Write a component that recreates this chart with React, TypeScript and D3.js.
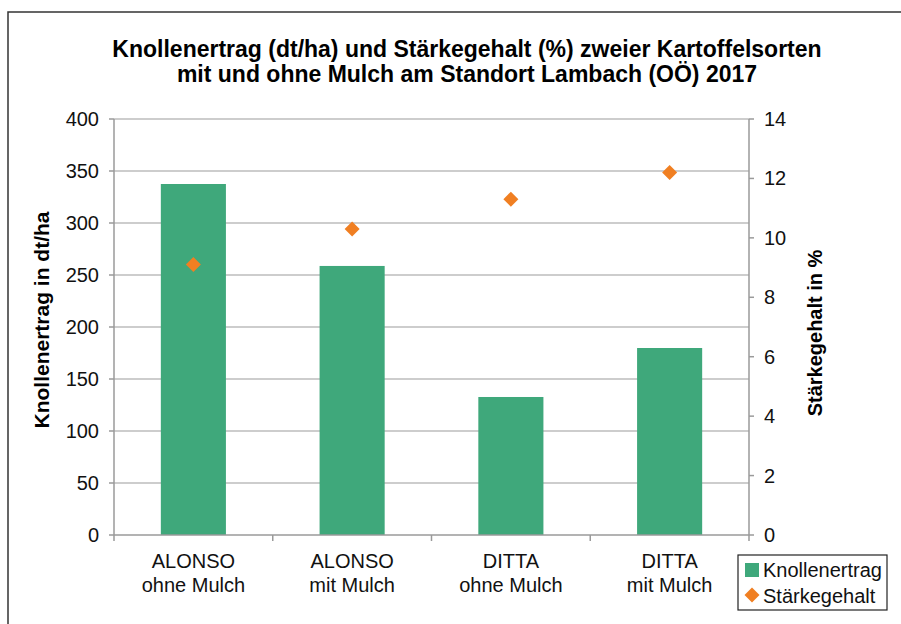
import React from 'react';
import * as d3 from 'd3';

const categories = [
  ['ALONSO', 'ohne Mulch'],
  ['ALONSO', 'mit Mulch'],
  ['DITTA', 'ohne Mulch'],
  ['DITTA', 'mit Mulch'],
];
const knollenertrag = [337.5, 258.7, 132.7, 179.8];
const staerkegehalt = [9.1, 10.3, 11.3, 12.2];
const leftTicks = [0, 50, 100, 150, 200, 250, 300, 350, 400];
const rightTicks = [0, 2, 4, 6, 8, 10, 12, 14];

const titleLines = [
  'Knollenertrag (dt/ha) und Stärkegehalt (%) zweier Kartoffelsorten',
  'mit und ohne Mulch am Standort Lambach (OÖ) 2017',
];

const GREEN = '#3fa87b';
const ORANGE = '#f07f22';
const FONT = "'Liberation Sans', Arial, sans-serif";

const App = () => {
  const width = 901;
  const height = 624;
  const plot = { left: 114, right: 749, top: 119, bottom: 535 };

  const x = d3
    .scaleBand<number>()
    .domain(d3.range(categories.length))
    .range([plot.left, plot.right])
    .paddingInner(0.59)
    .paddingOuter(0.295);
  const xOuter = d3
    .scaleBand<number>()
    .domain(d3.range(categories.length))
    .range([plot.left, plot.right]);

  const yLeft = d3.scaleLinear().domain([0, 400]).range([plot.bottom, plot.top]);
  const yRight = d3.scaleLinear().domain([0, 14]).range([plot.bottom, plot.top]);

  const diamond = (cx: number, cy: number, r: number) =>
    `M${cx},${cy - r}L${cx + r},${cy}L${cx},${cy + r}L${cx - r},${cy}Z`;

  const boundaries = d3.range(categories.length + 1).map((i) =>
    i < categories.length ? (xOuter(i) as number) : plot.right
  );

  return (
    <svg
      width={width}
      height={height}
      style={{ position: 'absolute', left: 0, top: 0, background: '#fff' }}
      fontFamily={FONT}
    >
      <rect x={8} y={12} width={width} height={height} fill="#fff" stroke="#333" strokeWidth={1.5} />

      {titleLines.map((t, i) => (
        <text key={i} x={467} y={57 + i * 25} textAnchor="middle" fontSize={23} fontWeight="bold" fill="#000">
          {t}
        </text>
      ))}

      {/* gridlines */}
      {leftTicks.slice(1).map((t) => (
        <line key={t} x1={plot.left} x2={plot.right} y1={yLeft(t)} y2={yLeft(t)} stroke="#bdbdbd" strokeWidth={1.5} />
      ))}

      {/* bars */}
      {knollenertrag.map((v, i) => (
        <rect
          key={i}
          x={x(i)}
          y={yLeft(v)}
          width={x.bandwidth()}
          height={yLeft(0) - yLeft(v)}
          fill={GREEN}
        />
      ))}

      {/* diamonds */}
      {staerkegehalt.map((v, i) => (
        <path
          key={i}
          d={diamond((xOuter(i) as number) + xOuter.bandwidth() / 2, yRight(v), 7.5)}
          fill={ORANGE}
        />
      ))}

      {/* left axis */}
      <line x1={plot.left} x2={plot.left} y1={plot.top} y2={plot.bottom} stroke="#9a9a9a" strokeWidth={1.5} />
      {leftTicks.map((t) => (
        <g key={t}>
          <line x1={plot.left - 5} x2={plot.left} y1={yLeft(t)} y2={yLeft(t)} stroke="#9a9a9a" strokeWidth={1.5} />
          <text x={99} y={yLeft(t)} dy="0.35em" textAnchor="end" fontSize={20} fill="#111">
            {t}
          </text>
        </g>
      ))}

      {/* right axis */}
      <line x1={plot.right} x2={plot.right} y1={plot.top} y2={plot.bottom} stroke="#9a9a9a" strokeWidth={1.5} />
      {rightTicks.map((t) => (
        <g key={t}>
          <line x1={plot.right} x2={plot.right + 5} y1={yRight(t)} y2={yRight(t)} stroke="#9a9a9a" strokeWidth={1.5} />
          <text x={764} y={yRight(t)} dy="0.35em" textAnchor="start" fontSize={20} fill="#111">
            {t}
          </text>
        </g>
      ))}

      {/* x axis */}
      <line x1={plot.left} x2={plot.right} y1={plot.bottom} y2={plot.bottom} stroke="#9a9a9a" strokeWidth={1.5} />
      {boundaries.map((b, i) => (
        <line key={i} x1={b} x2={b} y1={plot.bottom} y2={plot.bottom + 6} stroke="#9a9a9a" strokeWidth={1.5} />
      ))}
      {categories.map((c, i) => (
        <text
          key={i}
          x={(xOuter(i) as number) + xOuter.bandwidth() / 2}
          textAnchor="middle"
          fontSize={20}
          fill="#111"
        >
          <tspan x={(xOuter(i) as number) + xOuter.bandwidth() / 2} y={568}>{c[0]}</tspan>
          <tspan x={(xOuter(i) as number) + xOuter.bandwidth() / 2} y={592}>{c[1]}</tspan>
        </text>
      ))}

      {/* axis titles */}
      <text
        transform={`translate(49,${(plot.top + plot.bottom) / 2 - 7}) rotate(-90)`}
        textAnchor="middle"
        fontSize={21}
        fontWeight="bold"
        fill="#000"
      >
        Knollenertrag in dt/ha
      </text>
      <text
        transform={`translate(822,${(plot.top + plot.bottom) / 2 + 6}) rotate(-90)`}
        textAnchor="middle"
        fontSize={20}
        fontWeight="bold"
        fill="#000"
      >
        Stärkegehalt in %
      </text>

      {/* legend */}
      <rect x={738} y={555} width={149} height={55} fill="#fff" stroke="#222" strokeWidth={1.2} />
      <rect x={745} y={563} width={14} height={14} fill={GREEN} />
      <text x={763} y={577} fontSize={20} fill="#111">Knollenertrag</text>
      <path d={diamond(752, 595, 7.5)} fill={ORANGE} />
      <text x={763} y={603} fontSize={20} fill="#111">Stärkegehalt</text>
    </svg>
  );
};

export default App;
